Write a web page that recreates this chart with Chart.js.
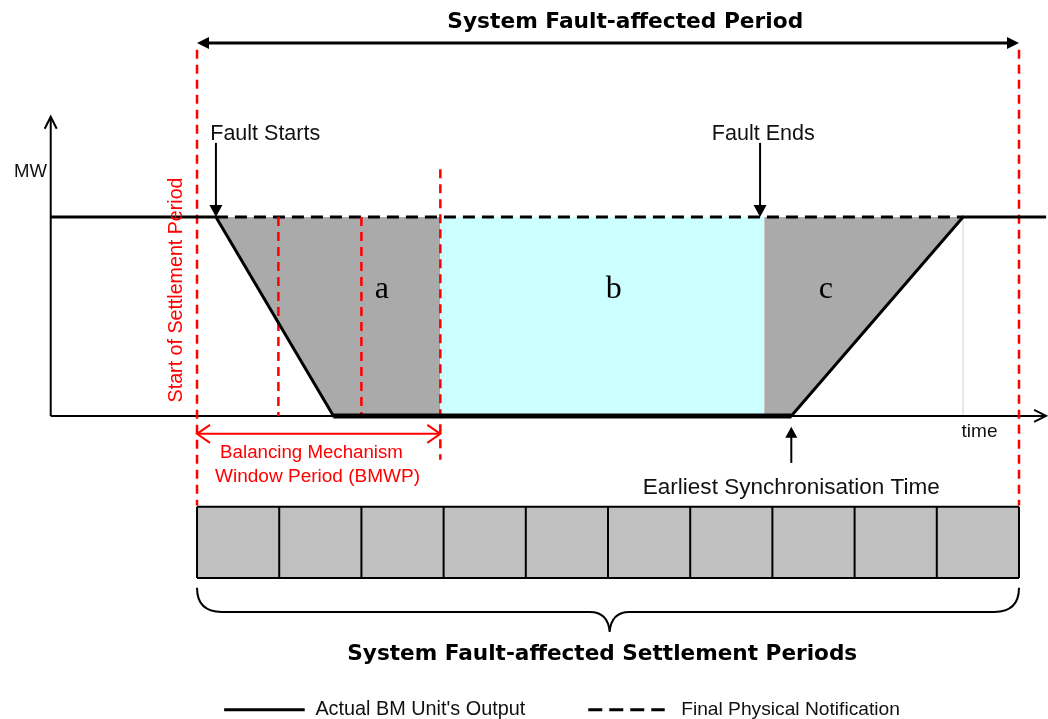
<!DOCTYPE html>
<html>
<head>
<meta charset="utf-8">
<script src="https://cdn.jsdelivr.net/npm/chart.js@4.4.1/dist/chart.umd.min.js"></script>
<style>
  html, body { margin: 0; padding: 0; background: #fff; }
  #wrap { width: 1048px; height: 719px; }
</style>
</head>
<body>
<div id="wrap"><canvas id="diagram" width="1048" height="719"></canvas></div>
<script>
// x = time in settlement periods (0 = start of the fault-affected period)
// y = output in % of the Final Physical Notification
const SETTLEMENT_PERIODS = ["SP1", "SP2", "SP3", "SP4", "SP5", "SP6", "SP7", "SP8", "SP9", "SP10"];

const OUTPUT_T = [-1.78, 0.23, 1.66, 7.23, 9.32, 10.33];
const OUTPUT_MW = [100, 100, 0, 0, 100, 100];
const FLOOR_T = [1.66, 7.23];
const FLOOR_MW = [0, 0];
const FPN_T = [0.23, 9.32];
const FPN_MW = [100, 100];

const AREA_A_T = [0.23, 1.66, 2.96];
const AREA_A_MW = [100, 0, 0];
const AREA_B_T = [2.96, 6.9];
const AREA_B_MW = [0, 0];
const AREA_C_T = [6.9, 7.23, 9.32];
const AREA_C_MW = [0, 0, 100];

const BOUNDARY_T = [0, 0.99, 2.0, 2.96, 10];
const BOUNDARY_TOP = [184, 100, 100, 124, 184];
const BOUNDARY_BOTTOM = [-45, 0, 0, -22, -45];

const FAULT_START_T = 0.23;
const FAULT_END_T = 6.85;
const SYNC_T = 7.23;
const RAMP_END_T = 9.32;
const BMWP_END_T = 2.96;
const BOX_TOP = -45.7;
const BOX_BOTTOM = -81.4;

const GREY = "#aaaaaa";
const CYAN = "#ccffff";
const RED = "#ff0000";
const SANS = "'Liberation Sans', Arial, sans-serif";
const BOLD = "'DejaVu Sans', Verdana, sans-serif";

const pts = (xs, ys) => xs.map((x, i) => ({ x, y: ys[i] }));

function verticals(ts, tops, bottoms) {
  const out = [];
  ts.forEach((t, i) => {
    out.push({ x: t, y: tops[i] }, { x: t, y: bottoms[i] }, { x: t, y: null });
  });
  return out;
}

const boxEdges = SETTLEMENT_PERIODS.map((_, i) => i).concat(SETTLEMENT_PERIODS.length);

const datasets = [
  { data: pts(OUTPUT_T, OUTPUT_MW), borderColor: "#000", borderWidth: 3, order: 1 },
  { data: pts(FLOOR_T, FLOOR_MW), borderColor: "#000", borderWidth: 5, order: 1 },
  { data: pts(FPN_T, FPN_MW), borderColor: "#000", borderWidth: 3, borderDash: [12, 7], order: 3 },
  {
    data: verticals(BOUNDARY_T, BOUNDARY_TOP, BOUNDARY_BOTTOM),
    borderColor: RED, borderWidth: 2.5, borderDash: [9, 6], order: 2,
  },
  { data: pts([-1.78, -1.78], [0, 150.3]), borderColor: "#000", borderWidth: 2, order: 4 },
  { data: pts([-1.78, 10.33], [0, 0]), borderColor: "#000", borderWidth: 2, order: 4 },
  { data: pts([RAMP_END_T, RAMP_END_T], [0, 100]), borderColor: "#cfcfcf", borderWidth: 1, order: 5 },
  { data: pts(AREA_A_T, AREA_A_MW), borderWidth: 0, backgroundColor: GREY, fill: { value: 100 }, order: 10 },
  { data: pts(AREA_B_T, AREA_B_MW), borderWidth: 0, backgroundColor: CYAN, fill: { value: 100 }, order: 10 },
  { data: pts(AREA_C_T, AREA_C_MW), borderWidth: 0, backgroundColor: GREY, fill: { value: 100 }, order: 10 },
  {
    data: pts([0, SETTLEMENT_PERIODS.length], [BOX_TOP, BOX_TOP]),
    borderColor: "#000", borderWidth: 2, backgroundColor: "#c0c0c0", fill: { value: BOX_BOTTOM }, order: 8,
  },
  { data: pts([0, SETTLEMENT_PERIODS.length], [BOX_BOTTOM, BOX_BOTTOM]), borderColor: "#000", borderWidth: 2, order: 6 },
  {
    data: verticals(boxEdges, boxEdges.map(() => BOX_TOP), boxEdges.map(() => BOX_BOTTOM)),
    borderColor: "#000", borderWidth: 2, order: 6,
  },
];

function fitText(ctx, str, x, y, width, opts) {
  const o = Object.assign({ weight: "normal", family: SANS, color: "#111", align: "center" }, opts || {});
  ctx.font = `${o.weight} 20px ${o.family}`;
  const size = (20 * width) / ctx.measureText(str).width;
  ctx.font = `${o.weight} ${size.toFixed(2)}px ${o.family}`;
  ctx.fillStyle = o.color;
  ctx.textAlign = o.align;
  ctx.textBaseline = "middle";
  ctx.fillText(str, x, y);
}

function filledHead(ctx, x, y, dx, dy, len, half) {
  // tip at (x, y), pointing along (dx, dy)
  const bx = x - dx * len, by = y - dy * len;
  ctx.beginPath();
  ctx.moveTo(x, y);
  ctx.lineTo(bx - dy * half, by + dx * half);
  ctx.lineTo(bx + dy * half, by - dx * half);
  ctx.closePath();
  ctx.fill();
}

function openHead(ctx, x, y, dx, dy, len, half) {
  const bx = x - dx * len, by = y - dy * len;
  ctx.beginPath();
  ctx.moveTo(bx - dy * half, by + dx * half);
  ctx.lineTo(x, y);
  ctx.lineTo(bx + dy * half, by - dx * half);
  ctx.stroke();
}

const annotate = {
  id: "annotate",
  afterDatasetsDraw(chart) {
    const { ctx, scales: { x, y } } = chart;
    const px = (t) => x.getPixelForValue(t);
    const py = (v) => y.getPixelForValue(v);
    ctx.save();
    ctx.lineCap = "butt";

    // top double arrow
    ctx.strokeStyle = "#000";
    ctx.fillStyle = "#000";
    ctx.lineWidth = 3;
    ctx.beginPath();
    ctx.moveTo(px(0) + 8, py(187.4));
    ctx.lineTo(px(10) - 8, py(187.4));
    ctx.stroke();
    filledHead(ctx, px(0), py(187.4), -1, 0, 12, 6);
    filledHead(ctx, px(10), py(187.4), 1, 0, 12, 6);
    fitText(ctx, "System Fault-affected Period", px(5.21), py(198), 356, { weight: "bold", family: BOLD, color: "#000" });

    // fault start / end arrows
    ctx.lineWidth = 2;
    [FAULT_START_T, FAULT_END_T].forEach((t) => {
      ctx.beginPath();
      ctx.moveTo(px(t), py(137.2));
      ctx.lineTo(px(t), py(100) - 8);
      ctx.stroke();
      filledHead(ctx, px(t), py(100), 0, 1, 12, 6.5);
    });
    fitText(ctx, "Fault Starts", px(0.83), py(141.7), 110);
    fitText(ctx, "Fault Ends", px(6.89), py(141.7), 103);

    // axes
    openHead(ctx, px(-1.78), py(150.3), 0, -1, 12, 6);
    openHead(ctx, px(10.33), py(0), 1, 0, 12, 6);
    fitText(ctx, "MW", px(-2.026), py(122.6), 33);
    fitText(ctx, "time", px(9.52), py(-8), 36);

    // area labels
    ctx.font = "32px 'Liberation Serif', 'Times New Roman', serif";
    ctx.fillStyle = "#000";
    ctx.textAlign = "center";
    ctx.textBaseline = "middle";
    ctx.fillText("a", px(2.25), py(63.3));
    ctx.fillText("b", px(5.07), py(63.3));
    ctx.fillText("c", px(7.65), py(63.3));

    // earliest synchronisation
    ctx.lineWidth = 2;
    ctx.beginPath();
    ctx.moveTo(px(SYNC_T), py(-23.6));
    ctx.lineTo(px(SYNC_T), py(-5.5) + 8);
    ctx.stroke();
    filledHead(ctx, px(SYNC_T), py(-5.5), 0, -1, 11, 6);
    fitText(ctx, "Earliest Synchronisation Time", px(SYNC_T), py(-36.2), 297);

    // BMWP
    ctx.strokeStyle = RED;
    ctx.lineWidth = 2;
    ctx.beginPath();
    ctx.moveTo(px(0), py(-9));
    ctx.lineTo(px(BMWP_END_T), py(-9));
    ctx.stroke();
    openHead(ctx, px(0), py(-9), -1, 0, 13, 9);
    openHead(ctx, px(BMWP_END_T), py(-9), 1, 0, 13, 9);
    fitText(ctx, "Balancing Mechanism", px(1.393), py(-18.6), 183, { color: RED });
    fitText(ctx, "Window Period (BMWP)", px(1.466), py(-30.7), 205, { color: RED });

    // rotated settlement period label
    ctx.save();
    ctx.translate(px(-0.243), py(63.3));
    ctx.rotate(-Math.PI / 2);
    fitText(ctx, "Start of Settlement Period", 0, 0, 225, { color: RED });
    ctx.restore();

    // curly brace under the settlement periods
    ctx.strokeStyle = "#000";
    ctx.lineWidth = 2;
    ctx.beginPath();
    ctx.moveTo(px(0), py(-86.4));
    ctx.quadraticCurveTo(px(0), py(-98.5), px(0.3), py(-98.5));
    ctx.lineTo(px(4.78), py(-98.5));
    ctx.quadraticCurveTo(px(5.0), py(-98.5), px(5.02), py(-108.5));
    ctx.quadraticCurveTo(px(5.04), py(-98.5), px(5.26), py(-98.5));
    ctx.lineTo(px(9.7), py(-98.5));
    ctx.quadraticCurveTo(px(10), py(-98.5), px(10), py(-86.4));
    ctx.stroke();
    fitText(ctx, "System Fault-affected Settlement Periods", px(4.93), py(-119.6), 510, { weight: "bold", family: BOLD, color: "#000" });

    // legend
    ctx.lineWidth = 3;
    ctx.beginPath();
    ctx.moveTo(px(0.33), py(-147.7));
    ctx.lineTo(px(1.31), py(-147.7));
    ctx.stroke();
    ctx.setLineDash([14, 7]);
    ctx.beginPath();
    ctx.moveTo(px(4.76), py(-147.7));
    ctx.lineTo(px(5.69), py(-147.7));
    ctx.stroke();
    ctx.setLineDash([]);
    fitText(ctx, "Actual BM Unit's Output", px(1.44), py(-147.7), 210, { align: "left" });
    fitText(ctx, "Final Physical Notification", px(5.89), py(-147.7), 219, { align: "left" });

    ctx.restore();
  },
};

new Chart(document.getElementById("diagram"), {
  type: "line",
  data: { datasets },
  options: {
    responsive: false,
    animation: false,
    events: [],
    layout: { padding: 0 },
    elements: { point: { radius: 0 }, line: { tension: 0 } },
    scales: {
      x: { type: "linear", display: false, min: -2.397, max: 10.353 },
      y: { type: "linear", display: false, min: -152.3, max: 209.0 },
    },
    plugins: {
      legend: { display: false },
      tooltip: { enabled: false },
    },
  },
  plugins: [annotate],
});
</script>
</body>
</html>
